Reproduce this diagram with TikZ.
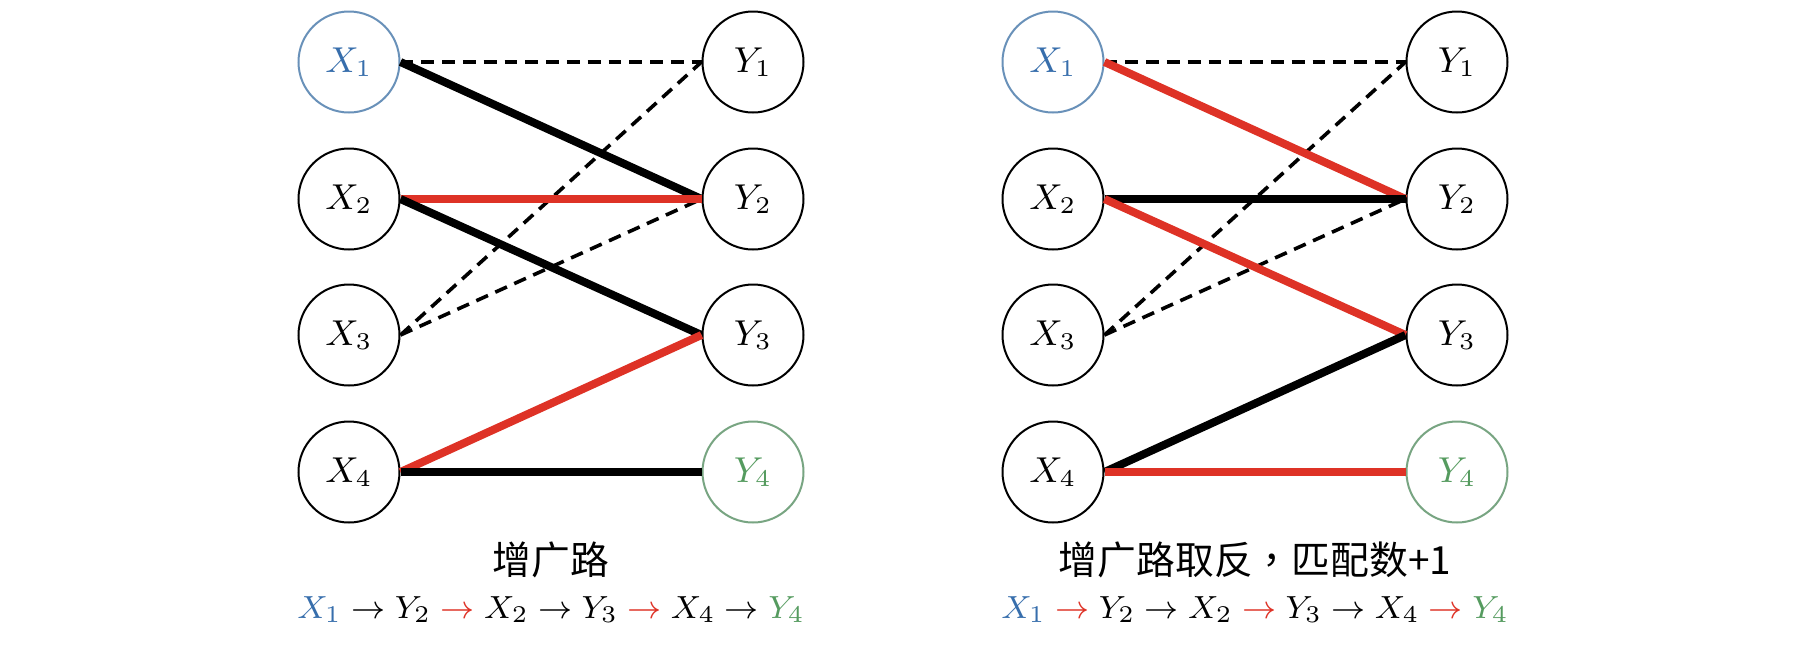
\documentclass[tikz,border=0pt]{standalone}
\usepackage{fontspec}
\newfontfamily\cjk{Noto Sans CJK SC}
\newfontfamily\cjktc{Noto Sans CJK TC}
\definecolor{xblue}{RGB}{55,110,172}
\definecolor{xblueline}{RGB}{105,145,185}
\definecolor{ygreen}{RGB}{85,155,95}
\definecolor{ygreenline}{RGB}{120,165,130}
\definecolor{edgered}{RGB}{222,50,38}
\tikzset{
  vert/.style={circle, draw=black, line width=0.5pt, fill=white, minimum size=25.25pt, inner sep=0pt, font=\fontsize{8.7}{10}\selectfont},
  bluevert/.style={vert, draw=xblueline, text=xblue},
  greenvert/.style={vert, draw=ygreenline, text=ygreen},
  matched/.style={line width=2pt, black},
  augm/.style={line width=2pt, edgered},
  unmatched/.style={line width=0.9pt, black, dash pattern=on 3.2pt off 2pt},
  caption/.style={font=\cjk\fontsize{9.7}{11}\selectfont, inner sep=0pt, anchor=base},
  pathtext/.style={font=\fontsize{8.5}{10}\selectfont, inner sep=0pt, anchor=base}
}
\newcommand{\rarr}{\mathrel{\textcolor{edgered}{\rightarrow}}}
\begin{document}
\begin{tikzpicture}[x=0.25pt,y=-0.25pt]
\useasboundingbox (0,0) rectangle (1814,645);
% ---------- left panel ----------
\node[bluevert] (lx1) at (349,62) {$X_1$};
\node[vert] (lx2) at (349,199) {$X_2$};
\node[vert] (lx3) at (349,335) {$X_3$};
\node[vert] (lx4) at (349,472) {$X_4$};
\node[vert] (ly1) at (753,62) {$Y_1$};
\node[vert] (ly2) at (753,199) {$Y_2$};
\node[vert] (ly3) at (753,335) {$Y_3$};
\node[greenvert] (ly4) at (753,472) {$Y_4$};
\draw[unmatched] (lx1.east) -- (ly1.west);
\draw[unmatched] (lx3.east) -- (ly1.west);
\draw[unmatched] (lx3.east) -- (ly2.west);
\draw[matched] (lx1.east) -- (ly2.west);
\draw[augm] (lx2.east) -- (ly2.west);
\draw[matched] (lx2.east) -- (ly3.west);
\draw[augm] (lx4.east) -- (ly3.west);
\draw[matched] (lx4.east) -- (ly4.west);
\node[caption] (lcap) at (551,574) {增广路};
\node[pathtext] (lpath) at (551,618) {$\textcolor{xblue}{X_1}\rightarrow Y_2\rarr X_2\rightarrow Y_3\rarr X_4\rightarrow \textcolor{ygreen}{Y_4}$};
% ---------- right panel ----------
\node[bluevert] (rx1) at (1053,62) {$X_1$};
\node[vert] (rx2) at (1053,199) {$X_2$};
\node[vert] (rx3) at (1053,335) {$X_3$};
\node[vert] (rx4) at (1053,472) {$X_4$};
\node[vert] (ry1) at (1457,62) {$Y_1$};
\node[vert] (ry2) at (1457,199) {$Y_2$};
\node[vert] (ry3) at (1457,335) {$Y_3$};
\node[greenvert] (ry4) at (1457,472) {$Y_4$};
\draw[unmatched] (rx1.east) -- (ry1.west);
\draw[unmatched] (rx3.east) -- (ry1.west);
\draw[unmatched] (rx3.east) -- (ry2.west);
\draw[augm] (rx1.east) -- (ry2.west);
\draw[matched] (rx2.east) -- (ry2.west);
\draw[augm] (rx2.east) -- (ry3.west);
\draw[matched] (rx4.east) -- (ry3.west);
\draw[augm] (rx4.east) -- (ry4.west);
\node[caption] (rcap) at (1255,574) {增广路取反{\cjktc ，}匹配数+1};
\node[pathtext] (rpath) at (1255,618) {$\textcolor{xblue}{X_1}\rarr Y_2\rightarrow X_2\rarr Y_3\rightarrow X_4\rarr \textcolor{ygreen}{Y_4}$};
\end{tikzpicture}
\end{document}
